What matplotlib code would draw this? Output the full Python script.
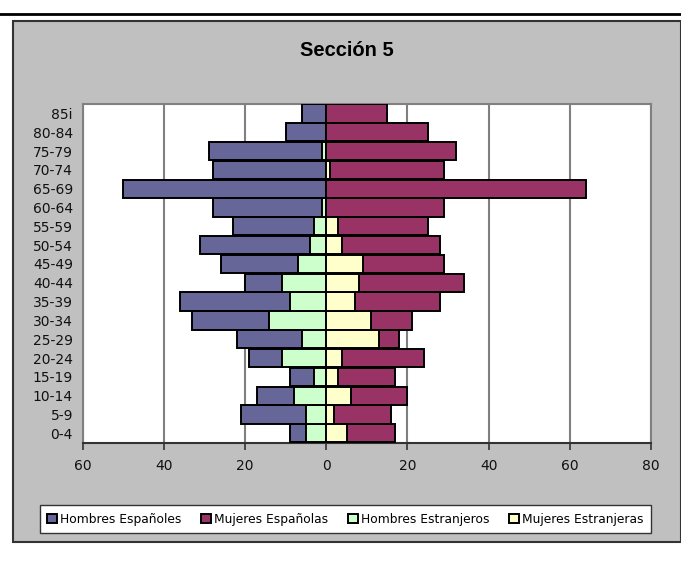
import matplotlib
matplotlib.use("Agg")
import matplotlib.pyplot as plt
from matplotlib.patches import Rectangle
from matplotlib.lines import Line2D
import numpy as np

ages = ["0-4", "5-9", "10-14", "15-19", "20-24", "25-29", "30-34", "35-39", "40-44",
        "45-49", "50-54", "55-59", "60-64", "65-69", "70-74", "75-79", "80-84", "85i"]
hombres_esp = [4, 16, 9, 6, 8, 16, 19, 27, 9, 19, 27, 20, 27, 50, 28, 28, 10, 6]
hombres_ext = [5, 5, 8, 3, 11, 6, 14, 9, 11, 7, 4, 3, 1, 0, 0, 1, 0, 0]
mujeres_esp = [12, 14, 14, 14, 20, 5, 10, 21, 26, 20, 24, 22, 29, 64, 28, 32, 25, 15]
mujeres_ext = [5, 2, 6, 3, 4, 13, 11, 7, 8, 9, 4, 3, 0, 0, 1, 0, 0, 0]
xticks = [-60, -40, -20, 0, 20, 40, 60, 80]
xticklabels = ["60", "40", "20", "0", "20", "40", "60", "80"]
title = "Sección 5"
labels = ["Hombres Españoles", "Mujeres Españolas", "Hombres Estranjeros", "Mujeres Estranjeras"]

c_he, c_me, c_hx, c_mx = "#666699", "#993366", "#CCFFCC", "#FFFFCC"

W, H = 681, 574
fig = plt.figure(figsize=(W / 100, H / 100), dpi=100)
fig.patch.set_facecolor("white")

# outer frame
fig.add_artist(Rectangle((12.7 / W, 1 - 542.3 / H), (680.5 - 12.7) / W, (542.3 - 21.3) / H,
                         transform=fig.transFigure, facecolor="#C0C0C0",
                         edgecolor="#333333", linewidth=1.5, zorder=0))
fig.add_artist(Line2D([0, 1], [1 - 13.5 / H, 1 - 13.5 / H], transform=fig.transFigure,
                      color="black", linewidth=2))

ax = fig.add_axes([82.7 / W, 1 - 442.7 / H, (651 - 82.7) / W, (442.7 - 104) / H])
ax.set_facecolor("white")

y = np.arange(len(ages))
hx = -np.array(hombres_ext)
he = -np.array(hombres_esp)
mx = np.array(mujeres_ext)
me = np.array(mujeres_esp)
h = 0.97
kw = dict(height=h, edgecolor="black", linewidth=1.4, zorder=3)
b1 = ax.barh(y, he, left=hx, color=c_he, label=labels[0], **kw)
b2 = ax.barh(y, me, left=mx, color=c_me, label=labels[1], **kw)
b3 = ax.barh(y, hx, color=c_hx, label=labels[2], **kw)
b4 = ax.barh(y, mx, color=c_mx, label=labels[3], **kw)

ax.set_xlim(-60, 80)
ax.set_ylim(-0.5, len(ages) - 0.5)
ax.set_xticks(xticks)
ax.set_xticklabels(xticklabels)
ax.set_yticks(y)
ax.set_yticklabels(ages)
ax.grid(axis="x", color="#808080", linewidth=1.5, zorder=0)
ax.set_axisbelow(True)
for s in ["top", "right", "left"]:
    ax.spines[s].set_color("#808080")
    ax.spines[s].set_linewidth(1.5)
ax.spines["bottom"].set_color("#333333")
ax.spines["bottom"].set_linewidth(1.5)
ax.tick_params(axis="y", length=0, pad=7, labelsize=10, labelcolor="#111111")
ax.tick_params(axis="x", length=5, width=1.2, color="#333333", pad=7, labelsize=10,
               direction="out", labelcolor="#111111")

fig.text(346.7 / W, 1 - 50 / H, title, ha="center", va="center", fontsize=14.5,
         fontweight="bold", family="Liberation Sans")

leg = fig.legend(handles=[b1, b2, b3, b4], labels=labels, ncol=4,
                 bbox_to_anchor=(40 / W, 1 - 535 / H, (651 - 40) / W, 32 / H),
                 loc="center", mode="expand", fontsize=8.8, frameon=True, fancybox=False,
                 edgecolor="#333333", facecolor="white", framealpha=1,
                 handlelength=0.8, handleheight=0.8, handletextpad=0.25,
                 columnspacing=0.5, borderaxespad=0, borderpad=0.6)
leg.get_frame().set_linewidth(1.0)

fig.savefig("out.png", dpi=100, facecolor="white")
